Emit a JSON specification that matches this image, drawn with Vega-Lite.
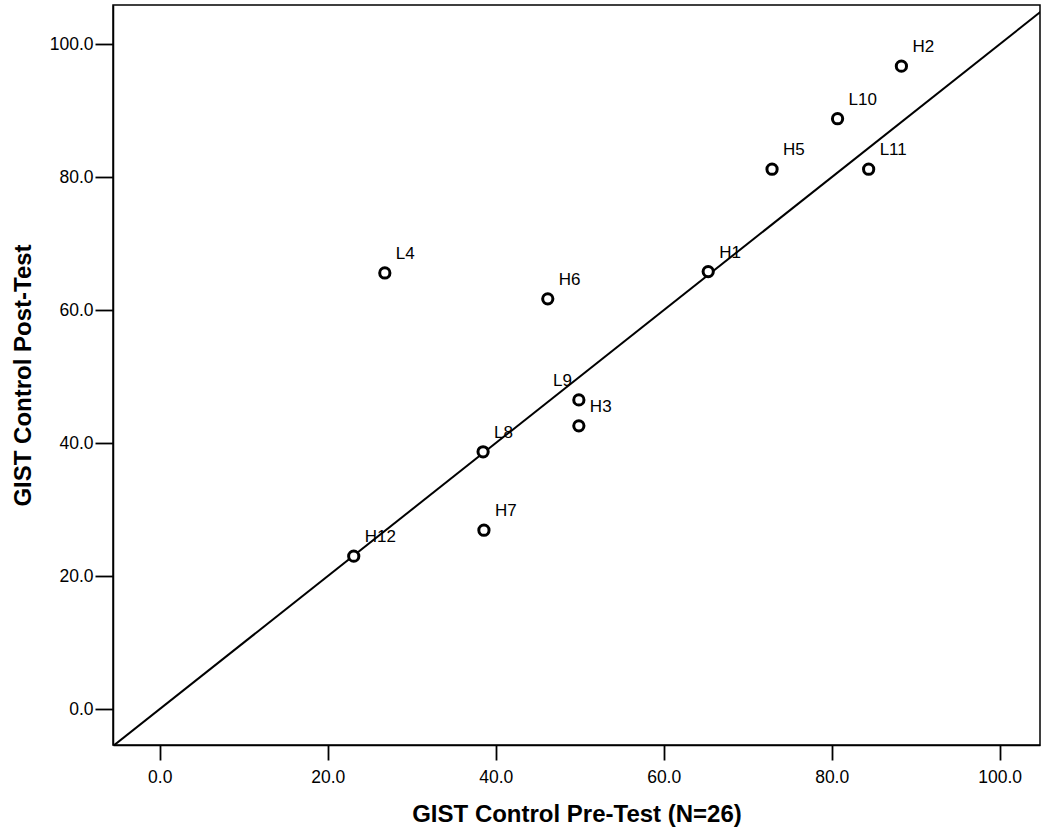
{
  "$schema": "https://vega.github.io/schema/vega-lite/v6.json",
  "width": 927,
  "height": 740,
  "autosize": {"type": "none"},
  "padding": {"left": 113, "top": 5, "right": 2, "bottom": 86},
  "background": "white",
  "config": {
    "view": {"stroke": "#000", "strokeWidth": 1.5},
    "font": "Liberation Sans",
    "axis": {
      "grid": false,
      "domainColor": "#000",
      "domainWidth": 1.5,
      "tickColor": "#000",
      "tickWidth": 1.8,
      "labelColor": "#000",
      "labelFontSize": 17.5,
      "labelFont": "Liberation Sans",
      "titleFont": "Liberation Sans",
      "titleFontSize": 24,
      "titleFontWeight": "bold",
      "titleColor": "#000"
    }
  },
  "datasets": {
    "pts": [
      {"id": "H1", "pre": 65.3, "post": 65.8},
      {"id": "H2", "pre": 88.3, "post": 96.7},
      {"id": "H3", "pre": 49.9, "post": 42.6},
      {"id": "L4", "pre": 26.8, "post": 65.6},
      {"id": "H5", "pre": 72.9, "post": 81.2},
      {"id": "H6", "pre": 46.2, "post": 61.7},
      {"id": "H7", "pre": 38.6, "post": 26.9},
      {"id": "L8", "pre": 38.5, "post": 38.7},
      {"id": "L9", "pre": 49.9, "post": 46.5},
      {"id": "L10", "pre": 80.7, "post": 88.8},
      {"id": "L11", "pre": 84.4, "post": 81.2},
      {"id": "H12", "pre": 23.1, "post": 23.0}
    ],
    "ref": [
      {"pre": -6, "post": -6},
      {"pre": 107, "post": 107}
    ]
  },
  "layer": [
    {
      "data": {"name": "ref"},
      "mark": {"type": "line", "color": "#000", "strokeWidth": 2, "clip": true},
      "encoding": {
        "x": {"field": "pre", "type": "quantitative"},
        "y": {"field": "post", "type": "quantitative"}
      }
    },
    {
      "data": {"name": "pts"},
      "mark": {"type": "point", "shape": "circle", "filled": false, "fill": "white", "stroke": "#000", "strokeWidth": 3, "size": 105, "opacity": 1},
      "encoding": {
        "x": {
          "field": "pre", "type": "quantitative",
          "scale": {"domain": [-5.56, 104.8], "nice": false, "zero": false},
          "axis": {"values": [0, 20, 40, 60, 80, 100], "format": ".1f", "title": "GIST Control Pre-Test (N=26)", "tickSize": 15, "labelPadding": 8, "titlePadding": 17}
        },
        "y": {
          "field": "post", "type": "quantitative",
          "scale": {"domain": [-5.4, 105.9], "nice": false, "zero": false},
          "axis": {"values": [0, 20, 40, 60, 80, 100], "format": ".1f", "title": "GIST Control Post-Test", "tickSize": 18, "labelPadding": 2, "titlePadding": 14}
        }
      }
    },
    {
      "data": {"name": "pts"},
      "transform": [{"filter": "datum.id !== 'L9'"}],
      "mark": {"type": "text", "align": "left", "baseline": "middle", "dx": 11, "dy": -19, "fontSize": 17, "color": "#000", "font": "Liberation Sans"},
      "encoding": {
        "x": {"field": "pre", "type": "quantitative"},
        "y": {"field": "post", "type": "quantitative"},
        "text": {"field": "id"}
      }
    },
    {
      "data": {"name": "pts"},
      "transform": [{"filter": "datum.id === 'L9'"}],
      "mark": {"type": "text", "align": "right", "baseline": "middle", "dx": -7, "dy": -19, "fontSize": 17, "color": "#000", "font": "Liberation Sans"},
      "encoding": {
        "x": {"field": "pre", "type": "quantitative"},
        "y": {"field": "post", "type": "quantitative"},
        "text": {"field": "id"}
      }
    }
  ]
}
